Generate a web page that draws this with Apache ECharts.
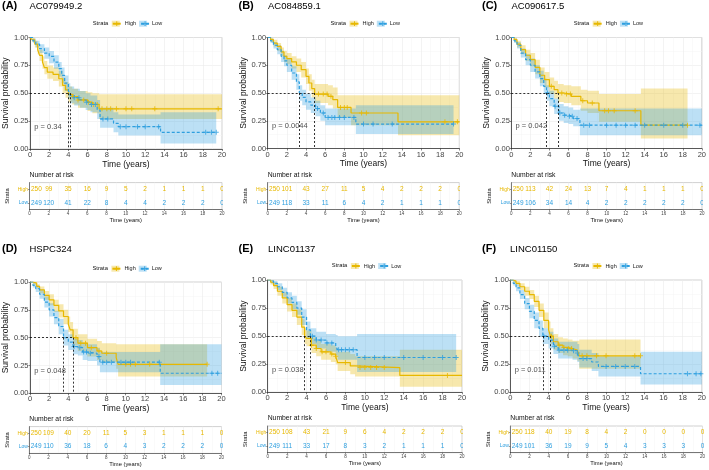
<!DOCTYPE html>
<html><head><meta charset="utf-8">
<script src="https://cdn.jsdelivr.net/npm/echarts@6/dist/echarts.min.js"></script>
<style>html,body{margin:0;padding:0;background:#fff}#c{width:709px;height:470px}</style>
</head><body><div id="c"></div>
<script>
// ---------------- DATA ----------------
const letters = ['(A)','(B)','(C)','(D)','(E)','(F)'];
const genes = ['AC079949.2','AC084859.1','AC090617.5','HSPC324','LINC01137','LINC01150'];
const pTexts = ['p = 0.34','p = 0.0044','p = 0.042','p = 0.048','p = 0.038','p = 0.011'];
const medHigh = [4.0, 4.9, 4.9, 4.5, 3.8, 4.2];
const medLow  = [4.2, 3.3, 3.7, 3.5, 4.4, 3.4];
const riskTimes = [0,2,4,6,8,10,12,14,16,18,20];
const strataNames = ['High','Low'];

// rows: [time, survival, lower CI, upper CI]
const A_high = [[0,1,1,1],[0.2,0.98,0.96,1],[0.5,0.94,0.91,0.97],[0.8,0.89,0.85,0.93],[1.0,0.84,0.79,0.89],[1.3,0.78,0.72,0.83],[1.5,0.73,0.67,0.79],[1.8,0.69,0.63,0.75],[2.4,0.67,0.61,0.73],[3.0,0.63,0.56,0.70],[3.4,0.57,0.50,0.64],[3.7,0.53,0.46,0.60],[4.0,0.49,0.42,0.56],[4.4,0.47,0.40,0.54],[5.0,0.44,0.37,0.52],[6.0,0.42,0.34,0.51],[6.5,0.40,0.32,0.50],[7.2,0.36,0.27,0.49],[20,0.36,0.27,0.49]];
const A_low = [[0,1,1,1],[0.3,0.97,0.95,0.99],[0.6,0.94,0.91,0.97],[1.0,0.90,0.86,0.94],[1.5,0.86,0.81,0.91],[2.0,0.83,0.77,0.88],[2.5,0.78,0.72,0.84],[3.0,0.72,0.65,0.78],[3.3,0.66,0.59,0.73],[3.6,0.59,0.52,0.66],[4.0,0.52,0.45,0.59],[4.2,0.48,0.41,0.56],[4.6,0.46,0.39,0.54],[5.2,0.44,0.37,0.52],[5.8,0.42,0.35,0.50],[6.3,0.40,0.33,0.48],[7.0,0.35,0.27,0.44],[7.3,0.27,0.19,0.37],[8.7,0.23,0.15,0.33],[9.2,0.20,0.12,0.31],[13.6,0.15,0.05,0.33],[19.4,0.15,0.05,0.33]];
const B_high = [[0,1,1,1],[0.3,0.98,0.96,1],[0.6,0.95,0.92,0.98],[1.0,0.92,0.88,0.95],[1.4,0.87,0.83,0.91],[1.7,0.83,0.78,0.88],[2.0,0.81,0.76,0.86],[2.5,0.78,0.72,0.83],[3.0,0.75,0.69,0.81],[3.5,0.71,0.64,0.78],[4.0,0.65,0.58,0.72],[4.3,0.59,0.52,0.67],[4.6,0.54,0.46,0.62],[4.9,0.49,0.41,0.58],[6.3,0.47,0.39,0.57],[6.8,0.44,0.36,0.55],[7.3,0.37,0.28,0.48],[8.7,0.32,0.21,0.48],[13.6,0.24,0.12,0.48],[20,0.24,0.12,0.48]];
const B_low = [[0,1,1,1],[0.3,0.97,0.95,0.99],[0.6,0.93,0.90,0.96],[1.0,0.89,0.85,0.93],[1.4,0.83,0.78,0.88],[1.7,0.79,0.74,0.84],[2.0,0.75,0.69,0.81],[2.5,0.68,0.62,0.74],[3.0,0.60,0.53,0.67],[3.3,0.50,0.43,0.57],[3.6,0.46,0.39,0.53],[4.0,0.42,0.35,0.49],[4.5,0.39,0.32,0.46],[5.0,0.36,0.29,0.43],[5.5,0.32,0.25,0.39],[6.0,0.28,0.21,0.36],[9.2,0.22,0.13,0.39],[19.4,0.22,0.13,0.39]];
const C_high = [[0,1,1,1],[0.3,0.98,0.96,1],[0.6,0.94,0.91,0.97],[1.0,0.89,0.85,0.93],[1.5,0.84,0.79,0.89],[2.0,0.80,0.74,0.86],[2.5,0.73,0.67,0.80],[3.0,0.66,0.59,0.73],[3.5,0.62,0.55,0.69],[4.0,0.56,0.49,0.64],[4.5,0.53,0.45,0.61],[4.9,0.50,0.42,0.58],[5.5,0.49,0.41,0.57],[6.3,0.47,0.39,0.56],[7.3,0.43,0.34,0.53],[8.0,0.41,0.32,0.52],[9.2,0.34,0.24,0.49],[13.6,0.21,0.09,0.54],[18.5,0.21,0.09,0.54]];
const C_low = [[0,1,1,1],[0.3,0.97,0.95,0.99],[0.6,0.93,0.90,0.96],[1.0,0.86,0.82,0.90],[1.5,0.80,0.75,0.85],[2.0,0.75,0.69,0.81],[2.5,0.69,0.63,0.75],[3.0,0.63,0.56,0.70],[3.4,0.56,0.49,0.63],[3.7,0.50,0.43,0.57],[4.0,0.45,0.38,0.52],[4.5,0.38,0.31,0.45],[5.0,0.32,0.25,0.40],[5.5,0.30,0.23,0.38],[6.0,0.29,0.22,0.37],[6.5,0.27,0.20,0.35],[7.2,0.21,0.12,0.36],[20,0.21,0.12,0.36]];
const D_high = [[0,1,1,1],[0.3,0.99,0.97,1],[0.7,0.96,0.94,0.98],[1.0,0.93,0.90,0.96],[1.5,0.88,0.84,0.92],[2.0,0.84,0.79,0.89],[2.5,0.79,0.73,0.84],[3.0,0.74,0.68,0.80],[3.5,0.69,0.62,0.75],[4.0,0.62,0.55,0.69],[4.2,0.57,0.50,0.64],[4.5,0.50,0.43,0.58],[5.0,0.45,0.38,0.53],[6.0,0.41,0.33,0.49],[7.0,0.38,0.30,0.47],[7.5,0.36,0.28,0.45],[9.0,0.32,0.22,0.44],[9.2,0.26,0.15,0.44],[18.5,0.26,0.15,0.44]];
const D_low = [[0,1,1,1],[0.3,0.97,0.95,0.99],[0.6,0.94,0.91,0.97],[1.0,0.89,0.85,0.93],[1.5,0.82,0.77,0.87],[2.0,0.75,0.69,0.81],[2.5,0.68,0.62,0.74],[3.0,0.60,0.53,0.67],[3.5,0.50,0.43,0.57],[4.0,0.46,0.39,0.53],[4.5,0.42,0.35,0.49],[5.0,0.41,0.34,0.48],[5.5,0.37,0.30,0.45],[6.0,0.36,0.29,0.44],[7.0,0.33,0.25,0.41],[7.3,0.28,0.19,0.37],[13.6,0.18,0.075,0.44],[20,0.18,0.075,0.44]];
const E_high = [[0,1,1,1],[0.3,0.98,0.96,1],[0.6,0.95,0.92,0.98],[1.0,0.90,0.86,0.94],[1.5,0.84,0.79,0.89],[2.0,0.78,0.72,0.84],[2.5,0.73,0.67,0.79],[3.0,0.67,0.60,0.74],[3.5,0.58,0.51,0.65],[3.8,0.50,0.43,0.57],[4.0,0.48,0.41,0.55],[4.5,0.42,0.35,0.49],[5.0,0.39,0.32,0.46],[5.5,0.36,0.29,0.43],[6.5,0.34,0.27,0.42],[7.0,0.32,0.25,0.40],[7.2,0.265,0.19,0.36],[8.5,0.235,0.16,0.34],[9.0,0.22,0.14,0.32],[13.6,0.15,0.05,0.38],[20,0.15,0.05,0.38]];
const E_low = [[0,1,1,1],[0.3,0.99,0.97,1],[0.6,0.97,0.95,0.99],[1.0,0.94,0.91,0.97],[1.5,0.89,0.85,0.93],[2.0,0.84,0.79,0.89],[2.5,0.80,0.74,0.86],[3.0,0.75,0.69,0.81],[3.5,0.67,0.60,0.74],[4.0,0.555,0.48,0.63],[4.4,0.50,0.43,0.57],[5.0,0.465,0.39,0.54],[6.0,0.44,0.36,0.52],[7.0,0.41,0.33,0.51],[7.2,0.38,0.29,0.50],[9.2,0.31,0.18,0.52],[19.4,0.31,0.18,0.52]];
const F_high = [[0,1,1,1],[0.3,0.99,0.97,1],[0.6,0.97,0.95,0.99],[1.0,0.94,0.91,0.97],[1.5,0.90,0.86,0.94],[2.0,0.87,0.83,0.91],[2.5,0.81,0.76,0.86],[3.0,0.73,0.67,0.79],[3.5,0.64,0.57,0.71],[4.0,0.555,0.48,0.63],[4.2,0.50,0.43,0.57],[4.5,0.45,0.38,0.52],[5.0,0.42,0.35,0.49],[5.5,0.40,0.33,0.48],[6.0,0.39,0.32,0.47],[6.5,0.375,0.30,0.46],[7.0,0.36,0.28,0.46],[7.2,0.325,0.21,0.47],[13.6,0.325,0.21,0.47]];
const F_low = [[0,1,1,1],[0.3,0.97,0.95,0.99],[0.6,0.93,0.90,0.96],[1.0,0.87,0.83,0.91],[1.5,0.79,0.74,0.84],[2.0,0.72,0.66,0.78],[2.5,0.64,0.57,0.71],[3.0,0.57,0.50,0.64],[3.4,0.50,0.43,0.57],[4.0,0.465,0.39,0.54],[4.5,0.41,0.34,0.48],[5.0,0.375,0.30,0.45],[6.5,0.37,0.29,0.45],[7.0,0.35,0.27,0.43],[7.2,0.30,0.22,0.38],[8.5,0.27,0.19,0.35],[9.2,0.23,0.14,0.32],[13.6,0.165,0.07,0.36],[20,0.165,0.07,0.36]];

// censoring times
const A_highCens = [4.5,5.0,5.6,6.1,6.6,7.0,7.5,8.0,8.4,9.0,10.0,10.6,13.0,19.6];
const A_lowCens = [4.6,5.1,5.9,6.4,6.8,7.6,8.1,9.4,10.0,11.2,12.0,13.4,18.3,18.9,19.4];
const B_highCens = [5.3,5.8,6.2,6.6,7.6,8.0,8.3,9.8,10.3,18.5,19.8];
const B_lowCens = [5.2,5.8,6.3,6.7,7.0,7.5,8.0,9.0,10.0,11.0,13.0,19.4];
const C_highCens = [4.2,5.3,5.8,6.2,7.5,8.5,9.8,10.2,10.8,13.0,18.5];
const C_lowCens = [3.8,4.6,5.1,5.6,6.1,6.4,6.9,7.6,8.2,10.0,11.0,12.0,13.0,14.0,16.0,18.0,19.8];
const D_highCens = [4.8,5.3,5.8,6.4,7.2,8.0,10.0,10.5,11.0,12.5,18.5];
const D_lowCens = [4.6,5.2,5.6,5.9,6.3,7.2,7.6,8.0,8.5,9.5,10.0,10.5,13.5,19.0,19.6];
const E_highCens = [4.5,5.0,5.6,6.0,6.6,7.0,8.0,9.5,10.0,10.6,11.2,12.0,18.5];
const E_lowCens = [4.6,5.0,5.5,6.1,6.6,7.3,7.6,8.0,8.4,8.8,10.0,11.0,12.0,14.0,16.0,18.0,19.4];
const F_highCens = [4.3,5.1,5.6,6.1,6.4,7.5,8.0,9.0,10.0,13.0,13.6];
const F_lowCens = [3.5,4.6,5.1,5.6,6.0,6.6,7.0,7.6,8.0,10.0,11.0,12.0,13.0,18.5,19.4,19.9];

// numbers at risk
const A_riskHigh = [250,99,35,16,9,5,2,1,1,1,0];
const A_riskLow  = [249,120,41,22,8,4,4,2,2,2,0];
const B_riskHigh = [250,101,43,27,11,5,4,2,2,2,0];
const B_riskLow  = [249,118,33,11,6,4,2,1,1,1,0];
const C_riskHigh = [250,113,42,24,13,7,4,1,1,1,0];
const C_riskLow  = [249,106,34,14,4,2,2,2,2,2,0];
const D_riskHigh = [250,109,40,20,11,5,3,1,1,1,0];
const D_riskLow  = [249,110,36,18,6,4,3,2,2,2,0];
const E_riskHigh = [250,108,43,21,9,6,4,2,2,2,0];
const E_riskLow  = [249,111,33,17,8,3,2,1,1,1,0];
const F_riskHigh = [250,118,40,19,8,4,2,0,0,0,0];
const F_riskLow  = [249,101,36,19,9,5,4,3,3,3,0];

const highCurves = [A_high,B_high,C_high,D_high,E_high,F_high];
const lowCurves = [A_low,B_low,C_low,D_low,E_low,F_low];
const highCens = [A_highCens,B_highCens,C_highCens,D_highCens,E_highCens,F_highCens];
const lowCens = [A_lowCens,B_lowCens,C_lowCens,D_lowCens,E_lowCens,F_lowCens];
const riskHigh = [A_riskHigh,B_riskHigh,C_riskHigh,D_riskHigh,E_riskHigh,F_riskHigh];
const riskLow = [A_riskLow,B_riskLow,C_riskLow,D_riskLow,E_riskLow,F_riskLow];

// ---------------- LAYOUT / STYLE ----------------
const FONT = '"Liberation Sans", Arial, Helvetica, sans-serif';
const YEL = '#E7B800', BLU = '#2E9FDF';
const YEL_FILL = 'rgba(231,184,0,0.32)', BLU_FILL = 'rgba(46,159,223,0.32)';
const PLUS = 'path://M4,0h2v4h4v2h-4v4h-2v-4h-4v-2h4z';
const layout = [
  {L:29.5, R:222,   T:37.5, B:149,   rT:182.6, rB:209.5, titleY:7.5, legY:23.7, letterX:2,     geneX:29.5, narY:175.3},
  {L:267.7,R:459.3, T:37.5, B:148.5, rT:182.6, rB:209.5, titleY:7.5, legY:23.7, letterX:238.5, geneX:268,  narY:175.3},
  {L:511.3,R:702,   T:37.5, B:148.5, rT:182.6, rB:209.5, titleY:7.5, legY:23.7, letterX:482,   geneX:511.5,narY:175.3},
  {L:29.3, R:221.5, T:282,  B:393.3, rT:426.6, rB:453.4, titleY:250, legY:268.7,letterX:2,     geneX:29.5, narY:420},
  {L:267.7,R:462,   T:280,  B:392.3, rT:426,   rB:452.7, titleY:250, legY:266,  letterX:238.5, geneX:268,  narY:419},
  {L:510.3,R:702.5, T:280,  B:392.3, rT:426,   rB:452.7, titleY:250, legY:266,  letterX:482,   geneX:510,  narY:419}
];
const pPos = [0.4, 0.2];

function stepAt(curve, t) {
  let v = curve[0][1];
  for (const r of curve) { if (r[0] <= t) v = r[1]; else break; }
  return v;
}

const grids = [], xAxes = [], yAxes = [], series = [], titles = [], legends = [];
const GRIDC = '#EBEBEB', MINORC = '#F5F5F5', BORDER = '#C4C4C4', AX = '#333';

layout.forEach((lo, p) => {
  const gi = 2 * p, ri = 2 * p + 1;
  grids.push({left: lo.L, top: lo.T, width: lo.R - lo.L, height: lo.B - lo.T, show: true,
    backgroundColor: '#fff', borderColor: BORDER, borderWidth: 0.8});
  grids.push({left: lo.L, top: lo.rT, width: lo.R - lo.L, height: lo.rB - lo.rT, show: true,
    backgroundColor: '#fff', borderColor: BORDER, borderWidth: 0.8});

  xAxes.push({gridIndex: gi, type: 'value', min: 0, max: 20, interval: 2,
    axisLine: {show: true, onZero: false, lineStyle: {color: AX, width: 0.8}},
    axisTick: {show: true, length: 2, lineStyle: {color: AX, width: 0.6}},
    minorTick: {show: false, splitNumber: 2},
    axisLabel: {fontSize: 7.5, color: '#444', margin: 2, fontFamily: FONT},
    splitLine: {show: true, lineStyle: {color: GRIDC, width: 0.6}},
    minorSplitLine: {show: true, lineStyle: {color: MINORC, width: 0.5}},
    name: 'Time (years)', nameLocation: 'middle', nameGap: 14,
    nameTextStyle: {fontSize: 8.5, color: '#111', verticalAlign: 'middle', fontFamily: FONT}});
  yAxes.push({gridIndex: gi, type: 'value', min: 0, max: 1, interval: 0.25,
    axisLine: {show: true, onZero: false, lineStyle: {color: AX, width: 0.8}},
    axisTick: {show: true, length: 1.5, lineStyle: {color: AX, width: 0.6}},
    minorTick: {show: false, splitNumber: 2},
    axisLabel: {fontSize: 7.5, color: '#444', margin: 1.5, fontFamily: FONT, formatter: v => v.toFixed(2)},
    splitLine: {show: true, lineStyle: {color: GRIDC, width: 0.6}},
    minorSplitLine: {show: true, lineStyle: {color: MINORC, width: 0.5}},
    name: 'Survival probability', nameLocation: 'middle', nameGap: 22, nameRotate: 90,
    nameTextStyle: {fontSize: 8.5, color: '#111', verticalAlign: 'middle', fontFamily: FONT}});

  xAxes.push({gridIndex: ri, type: 'value', min: 0, max: 20, interval: 2,
    axisLine: {show: true, onZero: false, lineStyle: {color: AX, width: 0.6}},
    axisTick: {show: true, length: 1.5, lineStyle: {color: AX, width: 0.5}},
    minorTick: {show: false, splitNumber: 2},
    axisLabel: {fontSize: 4.5, color: '#444', margin: 1.5, fontFamily: FONT},
    splitLine: {show: true, lineStyle: {color: GRIDC, width: 0.6}},
    minorSplitLine: {show: true, lineStyle: {color: MINORC, width: 0.5}},
    name: 'Time (years)', nameLocation: 'middle', nameGap: 10.5,
    nameTextStyle: {fontSize: 5.8, color: '#111', verticalAlign: 'middle', fontFamily: FONT}});
  yAxes.push({gridIndex: ri, type: 'category', data: ['Low', 'High'],
    axisLine: {show: true, lineStyle: {color: AX, width: 0.6}},
    axisTick: {show: true, length: 1.5, alignWithLabel: true, lineStyle: {color: AX, width: 0.5}},
    axisLabel: {fontSize: 5, margin: 1.5, fontFamily: FONT, color: v => v === 'High' ? YEL : BLU},
    splitLine: {show: false},
    name: 'Strata', nameLocation: 'middle', nameGap: 22, nameRotate: 90,
    nameTextStyle: {fontSize: 5.8, color: '#111', verticalAlign: 'middle', fontFamily: FONT}});

  const groups = [
    {name: 'High', curve: highCurves[p], cens: highCens[p], risk: riskHigh[p], row: 1, color: YEL, fill: YEL_FILL, dash: 'solid'},
    {name: 'Low', curve: lowCurves[p], cens: lowCens[p], risk: riskLow[p], row: 0, color: BLU, fill: BLU_FILL, dash: [3, 2]}
  ];
  // confidence bands: one step polygon per stratum, built from the band rows through the axes
  groups.forEach(g => {
    series.push({type: 'custom', name: 'band', xAxisIndex: gi, yAxisIndex: gi, clip: true, silent: true, z: 1,
      data: g.curve.map(r => [r[0], r[2], r[3]]),
      renderItem: (params, api) => {
        if (params.dataIndex !== 0) return null;
        const c = g.curve, up = [], low = [];
        for (let i = 0; i < c.length; i++) {
          const t0 = c[i][0], t1 = i < c.length - 1 ? c[i + 1][0] : c[i][0];
          up.push(api.coord([t0, c[i][3]]), api.coord([t1, c[i][3]]));
          low.push(api.coord([t0, c[i][2]]), api.coord([t1, c[i][2]]));
        }
        return {type: 'polygon', shape: {points: up.concat(low.reverse())}, style: {fill: g.fill, stroke: null}};
      }});
  });
  groups.forEach((g, k) => {
    const s = {type: 'line', name: g.name, xAxisIndex: gi, yAxisIndex: gi, step: 'end',
      data: g.curve.map(r => [r[0], r[1]]), symbol: PLUS, symbolSize: 5, showSymbol: false,
      lineStyle: {color: g.color, width: 1.2, type: g.dash}, itemStyle: {color: g.color}, silent: true, z: 3};
    if (k === 0) {
      const mMax = Math.max(medHigh[p], medLow[p]);
      s.markLine = {silent: true, symbol: ['none', 'none'], label: {show: false},
        lineStyle: {color: '#000', type: [2, 2], width: 0.8},
        data: [
          [{coord: [0, 0.5]}, {coord: [mMax, 0.5]}],
          [{coord: [medHigh[p], 0.5]}, {coord: [medHigh[p], 0]}],
          [{coord: [medLow[p], 0.5]}, {coord: [medLow[p], 0]}]
        ]};
    }
    series.push(s);
    series.push({type: 'scatter', name: 'cens', xAxisIndex: gi, yAxisIndex: gi,
      data: g.cens.map(t => [t, stepAt(g.curve, t)]), symbol: PLUS, symbolSize: 5,
      itemStyle: {color: g.color}, silent: true, z: 4});
    series.push({type: 'custom', name: 'risk', xAxisIndex: ri, yAxisIndex: ri, clip: true, silent: true,
      data: riskTimes.map((t, i) => [t, g.row, g.risk[i]]),
      renderItem: (params, api) => {
        const t = api.value(0);
        const pt = api.coord([t, api.value(1)]);
        const first = t === riskTimes[0];
        return {type: 'text', x: pt[0] + (first ? 1.4 : 0), y: pt[1],
          style: {text: String(api.value(2)), fill: g.color, font: '6.5px ' + FONT,
            align: first ? 'left' : 'center', verticalAlign: 'middle'}};
      }});
  });
  series.push({type: 'scatter', name: 'ptext', xAxisIndex: gi, yAxisIndex: gi, data: [pPos],
    symbolSize: 1, itemStyle: {color: 'rgba(0,0,0,0)'}, silent: true, z: 5,
    label: {show: true, position: 'right', distance: 0, formatter: () => pTexts[p],
      fontSize: 7.5, color: '#222', fontFamily: FONT}});

  const cx = (lo.L + lo.R) / 2;
  titles.push({text: letters[p], left: lo.letterX, top: lo.titleY - 6.6, padding: 0,
    textStyle: {fontSize: 11, fontWeight: 'bold', color: '#000', fontFamily: FONT}});
  titles.push({text: genes[p], left: lo.geneX, top: lo.titleY - 5.7, padding: 0,
    textStyle: {fontSize: 9.5, fontWeight: 'normal', color: '#000', fontFamily: FONT}});
  titles.push({text: 'Number at risk', left: lo.L, top: lo.narY - 4.1, padding: 0,
    textStyle: {fontSize: 6.8, fontWeight: 'normal', color: '#111', fontFamily: FONT}});
  titles.push({text: 'Strata', left: cx - 33, top: lo.legY - 3.5, padding: 0,
    textStyle: {fontSize: 5.8, fontWeight: 'normal', color: '#111', fontFamily: FONT}});

  legends.push({left: cx - 14, top: lo.legY - 3, padding: 0, itemWidth: 8, itemHeight: 6, itemGap: 3,
    selectedMode: false, icon: 'rect', z: 4,
    data: [{name: 'High', itemStyle: {color: YEL_FILL}}, {name: 'Low', itemStyle: {color: BLU_FILL}}],
    textStyle: {fontSize: 5.5, color: '#222', fontFamily: FONT}});
  legends.push({left: cx - 14, top: lo.legY - 3, padding: 0, itemWidth: 8, itemHeight: 6, itemGap: 3,
    selectedMode: false, z: 5, data: strataNames,
    textStyle: {fontSize: 5.5, color: 'rgba(0,0,0,0)', fontFamily: FONT}});
});

const chart = echarts.init(document.getElementById('c'), null, {renderer: 'canvas'});
chart.setOption({
  animation: false,
  backgroundColor: '#fff',
  textStyle: {fontFamily: FONT},
  title: titles,
  legend: legends,
  grid: grids,
  xAxis: xAxes,
  yAxis: yAxes,
  series: series
});
</script></body></html>
